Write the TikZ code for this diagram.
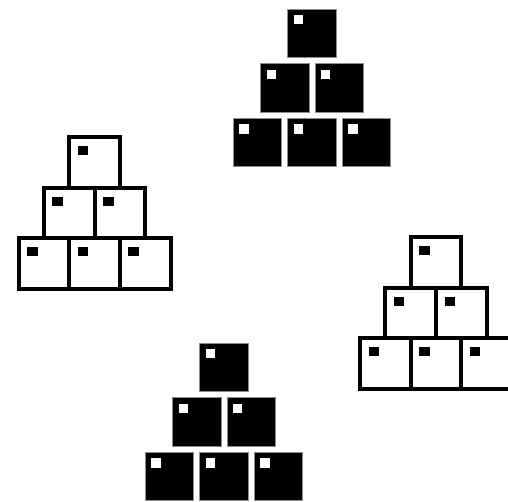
\documentclass[tikz,border=0pt]{standalone}
\usetikzlibrary{calc}
\tikzset{
  blackbox/.style={fill=black, draw=black!45, line width=0.7pt},
  blackmark/.style={fill=white},
  whitebox/.style={fill=white, draw=black, line width=4pt},
  whitemark/.style={fill=black},
}
\begin{document}
\begin{tikzpicture}[x=1pt, y=-1pt]
\useasboundingbox (0,0) rectangle (508,501);
% dark stacks, given by the corner of the top box
\foreach \sx/\sy in {287.75/9, 199.75/343}{
  \foreach \row in {0,1,2}{
    \foreach \col in {0,...,\row}{
      \pgfmathsetmacro\bx{\sx+(\col-\row/2)*54.5}
      \pgfmathsetmacro\by{\sy+\row*54.6}
      \draw[blackbox] (\bx,\by) rectangle ++(48.5,48.4);
      \fill[blackmark] (\bx+6,\by+6) rectangle ++(9.4,9.4);
    }
  }
}
% light stacks
\foreach \sx/\sy in {69.3/137.3, 410.7/237.3}{
  \foreach \row in {0,1,2}{
    \foreach \col in {0,...,\row}{
      \pgfmathsetmacro\bx{\sx+(\col-\row/2)*50.67}
      \pgfmathsetmacro\by{\sy+\row*50.5}
      \draw[whitebox] (\bx,\by) rectangle ++(50.67,50.5);
      \fill[whitemark] (\bx+8.5,\by+9) rectangle ++(10.5,8.7);
    }
  }
}
\end{tikzpicture}
\end{document}
